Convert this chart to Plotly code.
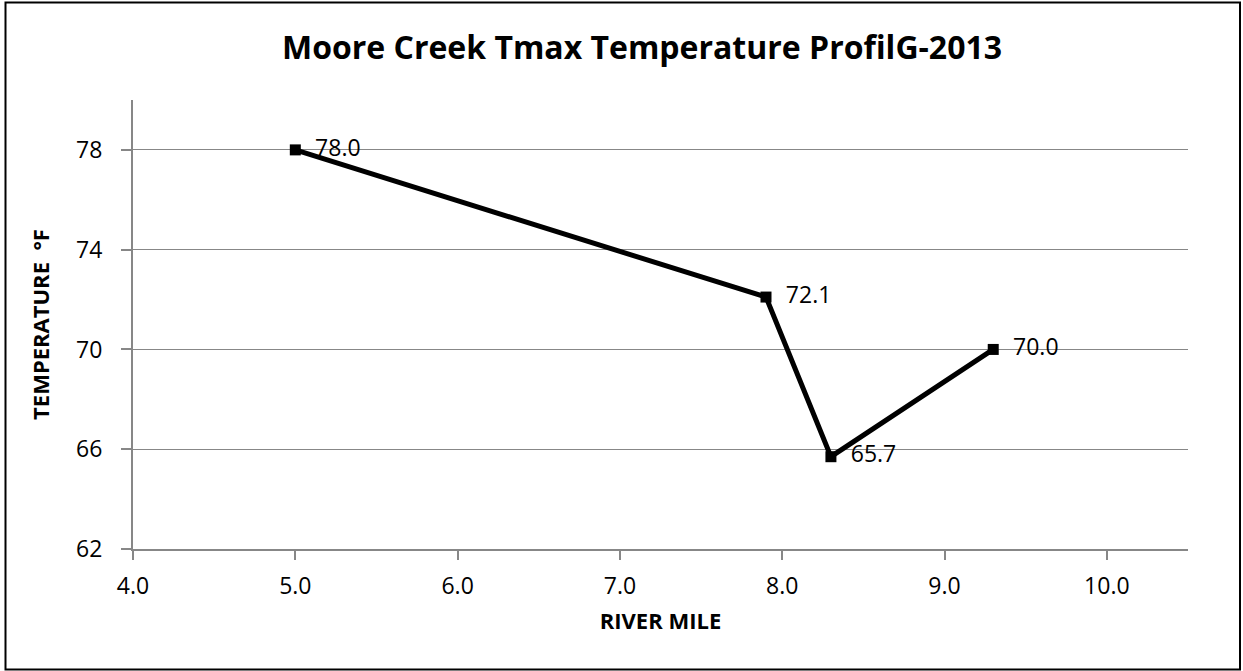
import plotly.graph_objects as go

river_mile = [5.0, 7.9, 8.3, 9.3]
tmax_f = [78.0, 72.1, 65.7, 70.0]
labels = [f"{v:.1f}" for v in tmax_f]
x_ticks = [4.0, 5.0, 6.0, 7.0, 8.0, 9.0, 10.0]
y_ticks = [62, 66, 70, 74, 78]

FONT = "Open Sans"
L, R, T, B = 133, 55, 100, 122
W, H = 1243, 671
pw, ph = W - L - R, H - T - B
GRAY = "#878787"

fig = go.Figure()
fig.add_trace(go.Scatter(
    x=river_mile, y=tmax_f, mode="lines+markers+text",
    text=["  " + s for s in labels], textposition="middle right",
    textfont=dict(family=FONT, size=23, color="#000000"),
    line=dict(color="#000000", width=5),
    marker=dict(symbol="square", size=11, color="#000000"),
    showlegend=False, cliponaxis=False,
))

def px_x(p):
    return (p - L) / pw

def px_y(p):
    return (H - B - p) / ph

fig.add_shape(type="rect", xref="paper", yref="paper",
              x0=px_x(5.5), x1=px_x(1240), y0=px_y(669.5), y1=px_y(2.5),
              line=dict(color="#000000", width=2), fillcolor="rgba(0,0,0,0)", layer="below")

fig.update_layout(
    width=W, height=H,
    margin=dict(l=L, r=R, t=T, b=B),
    paper_bgcolor="white", plot_bgcolor="white",
    font=dict(family=FONT, color="#000000"),
    title=dict(text="<b>Moore Creek Tmax Temperature ProfilG-2013</b>",
               x=642 / W, xanchor="center", xref="container", y=1 - 48 / H, yanchor="middle",
               font=dict(family=FONT, size=32, color="#000000")),
    xaxis=dict(range=[4.0, 10.5], tickvals=x_ticks, ticktext=[f"{v:.1f}" for v in x_ticks],
               showgrid=False, zeroline=False, showline=True, linecolor=GRAY, linewidth=2,
               ticks="outside", ticklen=9, tickcolor=GRAY, tickwidth=2, ticklabelstandoff=6,
               tickfont=dict(family=FONT, size=23, color="#000000"),
               title=dict(text="<b>RIVER MILE</b>", font=dict(family=FONT, size=22, color="#000000"), standoff=14)),
    yaxis=dict(range=[62, 80], tickvals=y_ticks,
               showgrid=True, gridcolor=GRAY, gridwidth=1.2, zeroline=False,
               showline=True, linecolor=GRAY, linewidth=2,
               ticks="outside", ticklen=10, tickcolor=GRAY, tickwidth=2, ticklabelstandoff=14,
               tickfont=dict(family=FONT, size=23, color="#000000"),
               title=dict(text="<b>TEMPERATURE  °F</b>", font=dict(family=FONT, size=22, color="#000000"), standoff=20)),
)

fig.write_html("out.html", config={"displayModeBar": False},
               post_script="document.body.style.margin='0';document.body.style.overflow='hidden';")
